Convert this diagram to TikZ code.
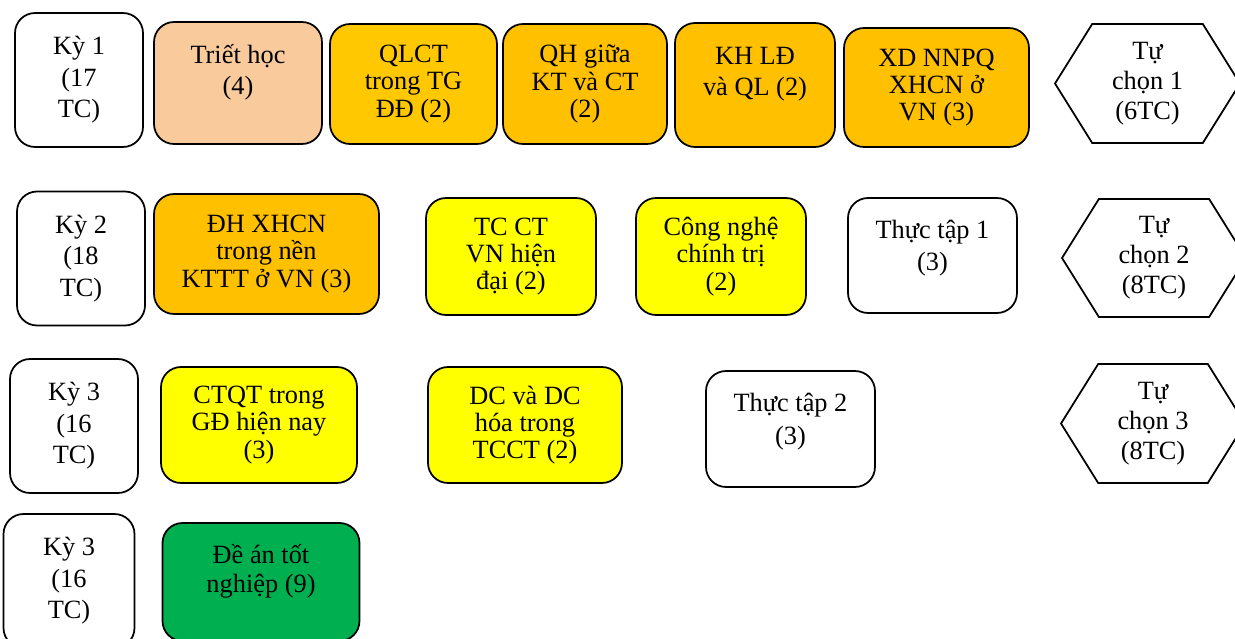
\documentclass[tikz,border=0pt]{standalone}
\usepackage{fontspec}
\setmainfont{Liberation Serif}
\usetikzlibrary{shapes.symbols}
\definecolor{peach}{HTML}{F9CB9C}
\definecolor{amber}{HTML}{FFC800}
\definecolor{ochre}{HTML}{FFC000}
\definecolor{lemon}{HTML}{FFFF00}
\definecolor{grass}{HTML}{00B050}
\begin{document}
\begin{tikzpicture}[x=0.02cm, y=-0.02cm,
  sem/.style={draw, line width=1pt, rounded corners=0.4cm, fill=white, align=center,
              inner sep=0pt, minimum width=2.56cm, minimum height=2.68cm,
              font=\fontsize{15}{18}\selectfont},
  course/.style={draw, line width=1pt, rounded corners=0.4cm, align=center,
              inner sep=0pt, font=\fontsize{15}{15.5}\selectfont},
  hexa/.style={draw, line width=1pt, signal, signal to=west and east,
              signal pointer angle=116, align=center, inner sep=0pt,
              minimum width=3.7cm, minimum height=2.38cm,
              font=\fontsize{15}{17}\selectfont},
]
  \useasboundingbox (0,0) rectangle (1235,639);

  % Ky 1
  \node[sem] (ky1) at (79,80) {Kỳ 1\\(17\\TC)};
  \node[course, fill=peach, minimum width=3.36cm, minimum height=2.44cm]
        (triet) at (238,83) {Triết học\\[2.5pt](4)\\~};
  \node[course, fill=amber, minimum width=3.34cm, minimum height=2.40cm]
        (qlct) at (413.5,84) {QLCT\\trong TG\\ĐĐ (2)};
  \node[course, fill=ochre, minimum width=3.28cm, minimum height=2.40cm]
        (qhkt) at (585,84) {QH giữa\\KT và CT\\(2)};
  \node[course, fill=ochre, minimum width=3.20cm, minimum height=2.48cm]
        (khld) at (755,85) {KH LĐ\\[2.5pt]và QL (2)\\~};
  \node[course, fill=ochre, minimum width=3.70cm, minimum height=2.38cm]
        (xdnn) at (936.5,87.5) {XD NNPQ\\XHCN ở\\VN (3)};
  \node[hexa] (tc1) at (1147.5,83.5) {Tự\\chọn 1\\(6TC)};

  % Ky 2
  \node[sem] (ky2) at (81,258.5) {Kỳ 2\\(18\\TC)};
  \node[course, fill=ochre, minimum width=4.50cm, minimum height=2.40cm]
        (dhxh) at (266.5,254) {ĐH XHCN\\trong nền\\KTTT ở VN (3)};
  \node[course, fill=lemon, minimum width=3.40cm, minimum height=2.34cm]
        (tcct) at (511,256.5) {TC CT\\VN hiện\\đại (2)};
  \node[course, fill=lemon, minimum width=3.40cm, minimum height=2.34cm]
        (cnct) at (721,256.5) {Công nghệ\\chính trị\\(2)};
  \node[course, fill=white, minimum width=3.38cm, minimum height=2.30cm]
        (tt1) at (932.5,255.5) {Thực tập 1\\[3pt](3)\\[-4pt]~};
  \node[hexa, minimum width=3.68cm, minimum height=2.36cm]
        (tc2) at (1154,258) {Tự\\chọn 2\\(8TC)};

  % Ky 3
  \node[sem] (ky3) at (74,426) {Kỳ 3\\(16\\TC)};
  \node[course, fill=lemon, minimum width=3.92cm, minimum height=2.32cm]
        (ctqt) at (259,425) {CTQT trong\\GĐ hiện nay\\(3)};
  \node[course, fill=lemon, minimum width=3.88cm, minimum height=2.32cm]
        (dcdc) at (525,425) {DC và DC\\hóa trong\\TCCT (2)};
  \node[course, fill=white, minimum width=3.38cm, minimum height=2.32cm]
        (tt2) at (790.5,429) {Thực tập 2\\[3pt](3)\\[-4pt]~};
  \node[hexa, minimum width=3.68cm] (tc3) at (1153,423.5) {Tự\\chọn 3\\(8TC)};

  % Ky 3 (do an)
  \node[sem, minimum width=2.62cm] (ky4) at (69,581) {Kỳ 3\\(16\\TC)};
  \node[course, fill=grass, minimum width=3.94cm, minimum height=2.36cm]
        (dean) at (261,582) {Đề án tốt\\[1pt]nghiệp (9)\\~};
\end{tikzpicture}
\end{document}
